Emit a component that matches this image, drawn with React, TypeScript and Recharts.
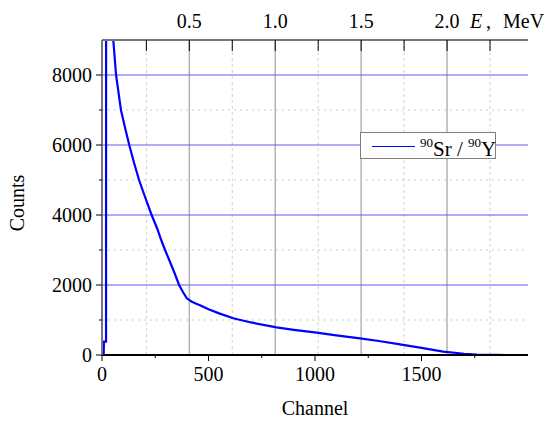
import React from 'react';
import { LineChart, Line, XAxis, YAxis, ReferenceLine, Label } from 'recharts';

// spectrum readings (channel, counts)
const channels = [0, 8, 9, 19, 20, 40, 53, 66, 89, 108, 128, 150, 174, 200, 233, 260, 277, 296, 320, 340, 362, 380, 398, 420, 440, 460, 500, 550, 616, 700, 820, 900, 1008, 1100, 1211, 1300, 1399, 1500, 1602, 1700, 1759, 1850, 1900, 2000];
const counts = [0, 0, 380, 380, 40000, 11500, 9000, 8000, 7000, 6500, 6000, 5500, 5000, 4550, 4000, 3600, 3300, 3000, 2650, 2350, 2000, 1800, 1620, 1530, 1470, 1420, 1310, 1190, 1050, 930, 790, 720, 640, 560, 476, 400, 305, 205, 95, 35, 12, 3, 0, 0];

const channelTicks = [0, 250, 500, 750, 1000, 1250, 1500, 1750];
const countTicks = [0, 1000, 2000, 3000, 4000, 5000, 6000, 7000, 8000];
const energyTicks = [0.25, 0.5, 0.75, 1.0, 1.25, 1.5, 1.75, 2.0, 2.25];
const countGridMajor = [2000, 4000, 6000, 8000];
const countGridMinor = [1000, 3000, 5000, 7000];
const energyGridMajor = [0.5, 1.0, 1.5, 2.0];
const energyGridMinor = [0.25, 0.75, 1.25, 1.75, 2.25];

// energy calibration: E = (channel - CH0) / CH_PER_MEV
const CH0 = 6.6;
const CH_PER_MEV = 806.7;
const CH_MAX = 2000;
const E_MIN = (0 - CH0) / CH_PER_MEV;
const E_MAX = (CH_MAX - CH0) / CH_PER_MEV;

const SERIES_NAME = 'Sr / Y';

const data = channels.map((ch, i) => ({ ch, count: counts[i] }));

const FONT = 'Liberation Serif, DejaVu Serif, serif';
const TXT = { fontFamily: FONT, fontSize: 20 };

const BottomTick = (props: any) => {
  const { x, y, payload } = props;
  const v = payload.value;
  const major = v % 500 === 0;
  return (
    <g>
      <line x1={x} y1={y} x2={x} y2={y + (major ? 6 : 3)} stroke="#000" strokeWidth={1} />
      {major && (
        <text x={x} y={y + 26} textAnchor="middle" style={TXT} fill="#000">
          {v}
        </text>
      )}
    </g>
  );
};

const LeftTick = (props: any) => {
  const { x, y, payload } = props;
  const v = payload.value;
  const major = v % 2000 === 0;
  return (
    <g>
      <line x1={x - (major ? 6 : 3)} y1={y} x2={x} y2={y} stroke="#000" strokeWidth={1} />
      {major && (
        <text x={x - 10} y={y + 7} textAnchor="end" style={TXT} fill="#000">
          {v}
        </text>
      )}
    </g>
  );
};

const TopTick = (props: any) => {
  const { x, y, payload } = props;
  const v = payload.value;
  const major = Math.abs(v * 2 - Math.round(v * 2)) < 1e-6;
  return (
    <g>
      <line x1={x} y1={y} x2={x} y2={y + 11} stroke="#000" strokeWidth={1} />
      {major && (
        <text x={x} y={y - 12} textAnchor="middle" style={TXT} fill="#000">
          {v.toFixed(1)}
        </text>
      )}
    </g>
  );
};

export default function App() {
  return (
    <div style={{ position: 'absolute', left: 0, top: 0, width: 551, height: 422, background: '#fff' }}>
      <LineChart
        width={551}
        height={422}
        data={data}
        margin={{ top: 0, right: 23, bottom: 0, left: 0 }}
      >
        <XAxis
          xAxisId="bottom"
          dataKey="ch"
          type="number"
          domain={[0, CH_MAX]}
          allowDataOverflow
          ticks={channelTicks}
          interval={0}
          height={67}
          tickSize={0}
          tickMargin={0}
          tickLine={false}
          tick={<BottomTick />}
          axisLine={{ stroke: '#000', strokeWidth: 2 }}
        >
          <Label
            content={(p: any) => {
              const vb = p.viewBox;
              return (
                <text x={vb.x + vb.width / 2} y={vb.y + 60} textAnchor="middle" style={TXT} fill="#000">
                  Channel
                </text>
              );
            }}
          />
        </XAxis>
        <XAxis
          xAxisId="top"
          orientation="top"
          dataKey="e"
          type="number"
          domain={[E_MIN, E_MAX]}
          allowDataOverflow
          ticks={energyTicks}
          interval={0}
          height={40}
          tickSize={0}
          tickMargin={0}
          tickLine={false}
          tick={<TopTick />}
          axisLine={{ stroke: '#777', strokeWidth: 2 }}
        >
          <Label
            content={(p: any) => {
              const vb = p.viewBox;
              const x0 = vb.x + vb.width - 58;
              return (
                <text y={28} style={TXT} fill="#000">
                  <tspan x={x0} fontStyle="italic">E</tspan>
                  <tspan x={x0 + 16}>,</tspan>
                  <tspan x={x0 + 33}>MeV</tspan>
                </text>
              );
            }}
          />
        </XAxis>
        <YAxis
          yAxisId="left"
          type="number"
          domain={[0, 9000]}
          allowDataOverflow
          ticks={countTicks}
          interval={0}
          width={102}
          tickSize={0}
          tickMargin={0}
          tickLine={false}
          tick={<LeftTick />}
          axisLine={{ stroke: '#777', strokeWidth: 2 }}
        >
          <Label
            content={() => (
              <text x={24} y={203} transform="rotate(-90 24 203)" textAnchor="middle" style={TXT} fill="#000">
                Counts
              </text>
            )}
          />
        </YAxis>

        {energyGridMinor.map((e) => (
          <ReferenceLine key={'em' + e} x={e} xAxisId="top" yAxisId="left" stroke="#cfcfcf" strokeWidth={1} strokeDasharray="3 3" />
        ))}
        {energyGridMajor.map((e) => (
          <ReferenceLine key={'eM' + e} x={e} xAxisId="top" yAxisId="left" stroke="#b4b4b4" strokeWidth={1.5} />
        ))}
        {countGridMinor.map((c) => (
          <ReferenceLine key={'cm' + c} y={c} xAxisId="bottom" yAxisId="left" stroke="#9fe89f" strokeWidth={1} strokeDasharray="2 4" />
        ))}
        {countGridMajor.map((c) => (
          <ReferenceLine key={'cM' + c} y={c} xAxisId="bottom" yAxisId="left" stroke="#5a5af0" strokeWidth={1} />
        ))}

        <Line
          xAxisId="bottom"
          yAxisId="left"
          dataKey="count"
          name={SERIES_NAME}
          type="linear"
          stroke="#0000ff"
          strokeWidth={2.2}
          dot={false}
          isAnimationActive={false}
        />
      </LineChart>
      <div style={{ position: 'absolute', left: 360, top: 132, width: 136, height: 27 }}>
        <svg width={136} height={27}>
          <rect x={0.5} y={0.5} width={135} height={26} fill="#fff" stroke="#808080" strokeWidth={1} />
          <line x1={12} y1={14.5} x2={55} y2={14.5} stroke="#0000ff" strokeWidth={1} />
          <text x={60} y={23.5} style={{ fontFamily: FONT, fontSize: 21 }} fill="#000">
            <tspan fontSize={13} dy={-9}>90</tspan>
            <tspan dy={9}>Sr / </tspan>
            <tspan fontSize={13} dy={-9}>90</tspan>
            <tspan dy={9}>Y</tspan>
          </text>
        </svg>
      </div>
    </div>
  );
}
